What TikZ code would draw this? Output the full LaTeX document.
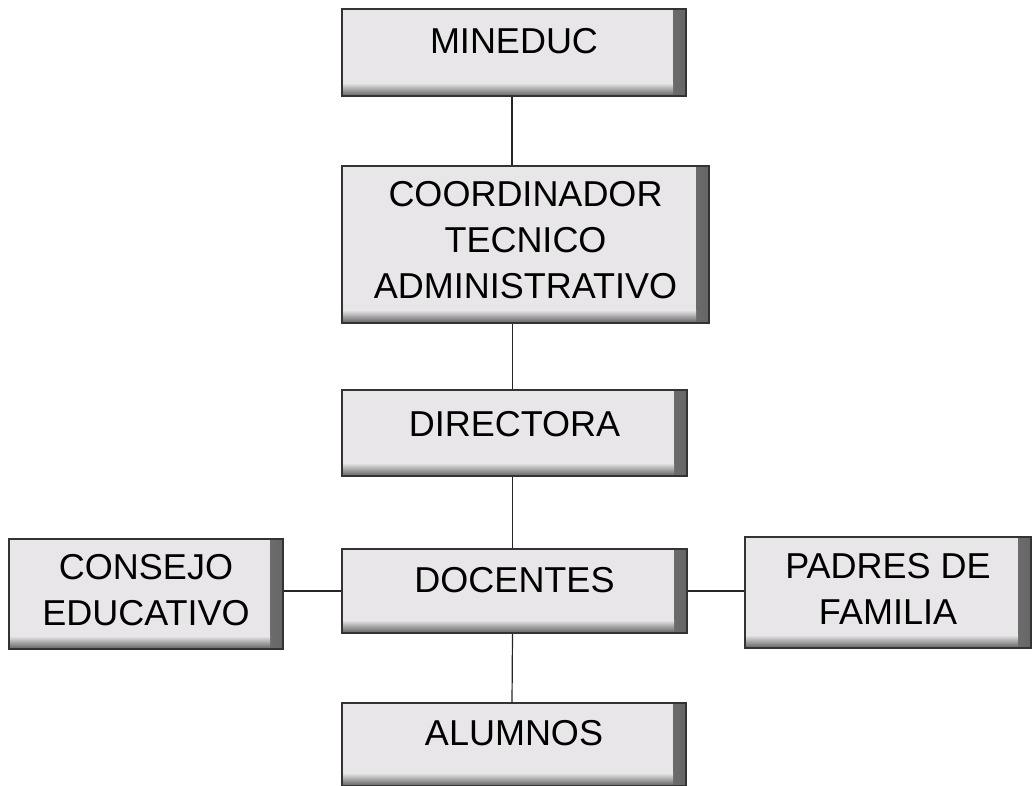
\documentclass[tikz,border=0pt]{standalone}
\usepackage{fontspec}
\setmainfont{Liberation Sans}
\usetikzlibrary{positioning,calc}
\definecolor{boxgray}{RGB}{232,230,232}
\tikzset{
  box/.style   ={rectangle, draw=black!80, line width=1.2pt, fill=boxgray,
                 inner sep=0pt,
                 path picture={
                   \shade[left color=boxgray, right color=black!60]
                     ([xshift=-13pt]path picture bounding box.north east)
                     rectangle ([xshift=-0.6pt]path picture bounding box.south east);
                   \shade[top color=boxgray, bottom color=black!60]
                     ([yshift=13pt]path picture bounding box.south west)
                     rectangle ([xshift=-13pt, yshift=0.6pt]path picture bounding box.south east);
                 }},
  txt/.style   ={font=\fontsize{36}{46}\selectfont, align=center, inner sep=0pt},
  boxtext/.style 2 args={label={[txt, yshift=#2]center:#1}},
  conn/.style  ={line width=1.2pt, draw=black!85},
}
\begin{document}
\begin{tikzpicture}[x=1pt, y=-1pt]
  \useasboundingbox (0,0) rectangle (1032,785);

  % main column
  \node[box, minimum width=344, minimum height=87, boxtext={MINEDUC}{11pt}]
       (mineduc) at (514,52.5) {};
  \node[box, minimum width=367, minimum height=157,
        boxtext={COORDINADOR\\TECNICO\\ADMINISTRATIVO}{4pt}]
       (coord) at (525.5,244.5) {};
  \node[box, minimum width=345, minimum height=86, boxtext={DIRECTORA}{9pt}]
       (directora) at (514.5,433) {};
  \node[box, minimum width=345, minimum height=84, boxtext={DOCENTES}{11pt}]
       (docentes) at (514.5,591) {};
  \node[box, minimum width=344, minimum height=83, boxtext={ALUMNOS}{11pt}]
       (alumnos) at (514,744.5) {};

  % side boxes
  \node[box, minimum width=274, minimum height=110,
        boxtext={CONSEJO\\EDUCATIVO}{4pt}]
       (consejo) at (146,594) {};
  \node[box, minimum width=286, minimum height=111,
        boxtext={PADRES DE\\FAMILIA}{4pt}]
       (padres) at (888,592.5) {};

  % connectors
  \draw[conn] ([xshift=-2pt]mineduc.south) -- ([xshift=-2pt]mineduc.south |- coord.north);
  \draw[conn] ([xshift=-2pt]directora.north |- coord.south) -- ([xshift=-2pt]directora.north);
  \draw[conn] ([xshift=-2pt]directora.south) -- ([xshift=-2pt]docentes.north);
  \draw[conn] ([xshift=-2pt]docentes.south) -- ([xshift=-2pt]alumnos.north);
  \draw[conn] (consejo.east |- docentes.center) -- (docentes.west);
  \draw[conn] (docentes.east) -- (padres.west |- docentes.center);
\end{tikzpicture}
\end{document}
